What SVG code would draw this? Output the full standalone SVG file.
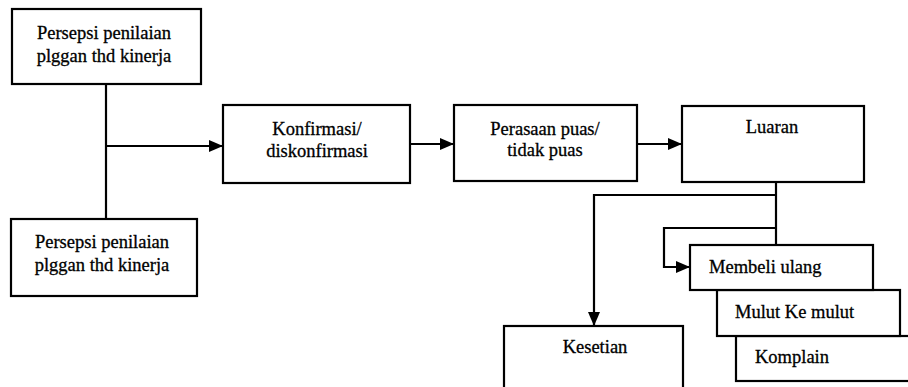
<svg xmlns="http://www.w3.org/2000/svg" width="908" height="387" viewBox="0 0 908 387">
<style>
.b{fill:#fff;stroke:#000;stroke-width:2.2}
.c{fill:none;stroke:#000;stroke-width:2.2}
</style>
<defs>
<marker id="ah" markerWidth="14" markerHeight="12" refX="13" refY="6" orient="auto" markerUnits="userSpaceOnUse">
<path d="M0,0 L14,6 L0,12 Z" fill="#000"/>
</marker>
</defs>
<rect width="908" height="387" fill="#fff"/>
<g id="connectors">
<path class="c" d="M106,84 V219"/>
<path class="c" d="M106,146 H222" marker-end="url(#ah)"/>
<path class="c" d="M410,144 H453" marker-end="url(#ah)"/>
<path class="c" d="M637,144 H681" marker-end="url(#ah)"/>
<path class="c" d="M776,182 V245"/>
<path class="c" d="M776,195 H594 V325" marker-end="url(#ah)"/>
<path class="c" d="M776,228 H664 V267 H689" marker-end="url(#ah)"/>
</g>
<g id="n1"><rect class="b" x="12" y="9" width="189" height="75"/><text font-family="Liberation Serif" font-size="18.5" stroke="#000" stroke-width="0.3" text-anchor="middle" x="104" y="39">Persepsi penilaian</text><text font-family="Liberation Serif" font-size="18.5" stroke="#000" stroke-width="0.3" text-anchor="middle" x="104" y="62">plggan thd kinerja</text></g>
<g id="n2"><rect class="b" x="11" y="219" width="186" height="77"/><text font-family="Liberation Serif" font-size="18.5" stroke="#000" stroke-width="0.3" text-anchor="middle" x="102" y="248">Persepsi penilaian</text><text font-family="Liberation Serif" font-size="18.5" stroke="#000" stroke-width="0.3" text-anchor="middle" x="102" y="271">plggan thd kinerja</text></g>
<g id="n3"><rect class="b" x="223" y="105" width="187" height="78"/><text font-family="Liberation Serif" font-size="18.5" stroke="#000" stroke-width="0.3" text-anchor="middle" x="317" y="135">Konfirmasi/</text><text font-family="Liberation Serif" font-size="18.5" stroke="#000" stroke-width="0.3" text-anchor="middle" x="317" y="157">diskonfirmasi</text></g>
<g id="n4"><rect class="b" x="454" y="105" width="183" height="76"/><text font-family="Liberation Serif" font-size="18.5" stroke="#000" stroke-width="0.3" text-anchor="middle" x="545" y="135">Perasaan puas/</text><text font-family="Liberation Serif" font-size="18.5" stroke="#000" stroke-width="0.3" text-anchor="middle" x="545" y="156">tidak puas</text></g>
<g id="n5"><rect class="b" x="682" y="106" width="182" height="76"/><text font-family="Liberation Serif" font-size="18.5" stroke="#000" stroke-width="0.3" text-anchor="middle" x="772" y="133">Luaran</text></g>
<g id="n6"><rect class="b" x="504" y="326" width="179" height="70"/><text font-family="Liberation Serif" font-size="18.5" stroke="#000" stroke-width="0.3" text-anchor="middle" x="595" y="353">Kesetian</text></g>
<g id="n9"><rect class="b" x="736" y="336" width="180" height="45"/><text font-family="Liberation Serif" font-size="18.5" stroke="#000" stroke-width="0.3" x="755" y="363">Komplain</text></g>
<g id="n8"><rect class="b" x="717" y="290" width="183" height="46"/><text font-family="Liberation Serif" font-size="18.5" stroke="#000" stroke-width="0.3" x="735" y="318">Mulut Ke mulut</text></g>
<g id="n7"><rect class="b" x="690" y="245" width="183" height="45"/><text font-family="Liberation Serif" font-size="18.5" stroke="#000" stroke-width="0.3" x="709" y="273">Membeli ulang</text></g>
</svg>
